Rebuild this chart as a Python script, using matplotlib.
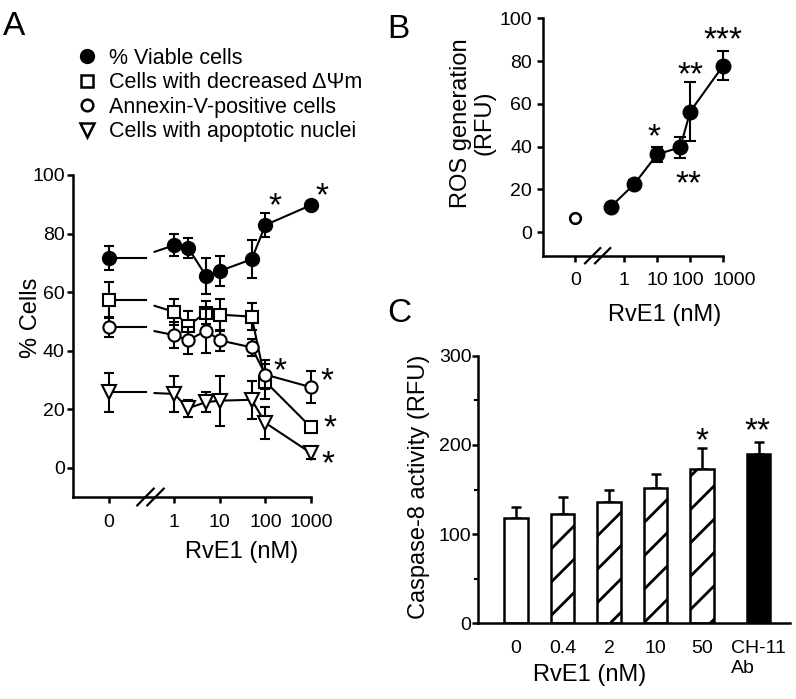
import matplotlib
matplotlib.use('Agg')
import matplotlib.pyplot as plt
import numpy as np
from matplotlib.lines import Line2D
from matplotlib.transforms import ScaledTranslation

plt.rcParams['font.family'] = ['Liberation Sans', 'DejaVu Sans']
plt.rcParams['axes.linewidth'] = 1.8
plt.rcParams['hatch.linewidth'] = 2.0

# ---- panel A: % cells vs RvE1 ----
doses_a = [0, 1, 2, 5, 10, 50, 100, 1000]
viable = [71.5, 76.0, 75.2, 65.5, 67.2, 71.2, 82.9, 89.7]
viable_err = [4.1, 3.7, 3.4, 6.2, 5.2, 6.5, 4.2, 1.0]
dpsi = [57.4, 53.2, 48.5, 53.0, 52.3, 51.6, 29.4, 13.8]
dpsi_err = [6.0, 4.5, 5.0, 4.0, 5.5, 4.5, 6.0, 1.0]
annexin = [48.0, 45.3, 43.5, 46.8, 43.5, 41.1, 31.8, 27.5]
annexin_err = [3.2, 4.5, 4.5, 7.5, 3.5, 3.0, 5.0, 5.5]
nuclei = [25.8, 25.2, 20.3, 22.4, 22.9, 23.2, 15.3, 5.0]
nuclei_err = [6.7, 6.0, 3.0, 3.5, 8.5, 6.5, 5.5, 2.0]
xticks_a = ['0', '1', '10', '100', '1000']

# ---- panel B: ROS generation ----
doses_b = [0, 0.4, 2, 10, 50, 100, 1000]
ros = [6.5, 12.0, 22.4, 36.4, 39.7, 56.4, 77.9]
ros_err = [0, 1.0, 2.0, 3.5, 5.0, 14.0, 6.7]

# ---- panel C: caspase-8 ----
casp_labels = ['0', '0.4', '2', '10', '50', 'CH-11\nAb']
casp = [117.7, 122.9, 136.3, 152.0, 173.3, 189.8]
casp_err = [12.3, 19.1, 13.1, 15.0, 22.7, 13.2]


def dose_pos(doses, zero_pos):
    return np.array([zero_pos if d == 0 else np.log10(d) for d in doses])


def clean_axes(ax):
    ax.spines['top'].set_visible(False)
    ax.spines['right'].set_visible(False)
    ax.tick_params(direction='out', width=1.8, labelsize=14)


def break_marks(ax, centers, half_w, half_h):
    tr = ax.get_xaxis_transform()
    for c in centers:
        ax.plot([c - half_w, c + half_w], [-half_h, half_h], color='black',
                lw=1.6, transform=tr, clip_on=False, zorder=5)


def star(ax, s, x, y, fs=24):
    # place glyph centre at (x, y)
    ax.annotate(s, xy=(x, y), xytext=(0, -0.57 * fs), textcoords='offset points',
                ha='center', va='baseline', fontsize=fs, annotation_clip=False)


fig = plt.figure(figsize=(7.96, 6.99), dpi=100)

# ================= A =================
axA = fig.add_axes([0.0917, 0.2890, 0.2990, 0.4607])
clean_axes(axA)
zero_a = -1.43
ua = dose_pos(doses_a, zero_a)
gap_l, gap_r = -0.61, -0.43

styles = [
    (nuclei, nuclei_err, dict(marker='v', mfc='white', ms=9.5)),
    (dpsi, dpsi_err, dict(marker='s', mfc='white', ms=8.8)),
    (annexin, annexin_err, dict(marker='o', mfc='white', ms=8.8)),
    (viable, viable_err, dict(marker='o', mfc='black', ms=9.5)),
]
z = 2
for vals, err, mk in styles:
    vals = np.array(vals)
    axA.errorbar(ua, vals, yerr=err, fmt='none', ecolor='black', elinewidth=1.5,
                 capsize=3.5, capthick=1.5, zorder=z, clip_on=False)
    axA.plot([ua[0], gap_l], [vals[0], vals[0]], color='black', lw=1.5, zorder=z)
    axA.plot([gap_r, ua[1]], [(vals[0] + vals[1]) / 2, vals[1]], color='black', lw=1.5, zorder=z)
    axA.plot(ua[1:], vals[1:], color='black', lw=1.5, mec='black', mew=1.5,
             zorder=z + 0.5, clip_on=False, **mk)
    axA.plot(ua[:1], vals[:1], linestyle='none', mec='black', mew=1.5, zorder=z + 0.5, **mk)
    z += 1

axA.set_xlim(-2.22, 3.0)
axA.set_ylim(-10, 100)
axA.set_yticks([0, 20, 40, 60, 80, 100])
axA.set_xticks([zero_a, 0, 1, 2, 3], xticks_a)
axA.tick_params(axis='y', length=4, pad=2)
axA.tick_params(axis='x', length=4, pad=8)
axA.set_ylabel('% Cells', fontsize=17, va='center')
axA.yaxis.set_label_coords(-0.176, 0.556)
axA.set_xlabel('RvE1 (nM)', fontsize=17, va='center')
axA.xaxis.set_label_coords(0.709, -0.171)
break_marks(axA, [-0.63, -0.41], 0.18, 0.026)

star(axA, '*', 2.2, 92.6)
star(axA, '*', 3.25, 96.3)
star(axA, '*', 2.32, 36.3)
star(axA, '*', 3.34, 32.9)
star(axA, '*', 3.41, 17.0)
star(axA, '*', 3.37, 4.5)

legend_handles = [
    Line2D([], [], linestyle='none', marker='o', mfc='black', mec='black', ms=9.5, mew=1.5),
    Line2D([], [], linestyle='none', marker='s', mfc='white', mec='black', ms=8.2, mew=1.8),
    Line2D([], [], linestyle='none', marker='o', mfc='white', mec='black', ms=8.4, mew=1.8),
    Line2D([], [], linestyle='none', marker='v', mfc='white', mec='black', ms=9.5, mew=1.8),
]
legend_labels = ['% Viable cells', 'Cells with decreased ΔΨm',
                 'Annexin-V-positive cells', 'Cells with apoptotic nuclei']
fig.legend(legend_handles, legend_labels, loc='upper left',
           bbox_to_anchor=(76 / 796, 1 - 48 / 699), frameon=False, fontsize=15.5,
           handlelength=1.0, handletextpad=0.55, labelspacing=0.16,
           borderpad=0, borderaxespad=0)

# ================= B =================
axB = fig.add_axes([0.6825, 0.6342, 0.2261, 0.3396])
clean_axes(axB)
zero_b = -1.48
ub = dose_pos(doses_b, zero_b)
axB.errorbar(ub[1:], ros[1:], yerr=ros_err[1:], fmt='none', ecolor='black',
             elinewidth=1.5, capsize=4, capthick=1.5, zorder=2, clip_on=False)
axB.plot(ub[1:], ros[1:], color='black', lw=1.5, marker='o', mfc='black',
         mec='black', ms=10.5, zorder=3, clip_on=False)
axB.plot(ub[:1], ros[:1], linestyle='none', marker='o', mfc='white', mec='black',
         ms=7.7, mew=1.8, zorder=3)
axB.set_xlim(-2.45, 3.0)
axB.set_ylim(-11, 100)
axB.set_yticks([0, 20, 40, 60, 80, 100])
axB.set_xticks([zero_b, 0, 1, 2, 3], xticks_a)
axB.tick_params(axis='y', length=4, pad=4)
axB.tick_params(axis='x', length=4, pad=8)
# the last two labels sit a little apart, as in the original
shifts = [0, 0, 0, -2, 11]
for lbl, dx in zip(axB.get_xticklabels(), shifts):
    lbl.set_transform(lbl.get_transform() + ScaledTranslation(dx / 100, 0, fig.dpi_scale_trans))
axB.set_ylabel('ROS generation\n(RFU)', fontsize=17, va='center', linespacing=1.05)
axB.yaxis.set_label_coords(-0.391, 0.559)
axB.set_xlabel('RvE1 (nM)', fontsize=17, va='center')
axB.xaxis.set_label_coords(0.676, -0.25)
break_marks(axB, [-0.955, -0.652], 0.23, 0.032)
star(axB, '*', 0.89, 49.0)
star(axB, '**', 2.0, 77.9)
star(axB, '**', 1.94, 27.2)
star(axB, '***', 3.0, 94.2)

# ================= C =================
axC = fig.add_axes([0.6009, 0.1083, 0.3916, 0.3828])
clean_axes(axC)
xc = np.array([0, 1, 2, 3, 4, 5.22])
faces = ['white', 'white', 'white', 'white', 'white', 'black']
hatches = ['', '/', '/', '/', '/', '']
bars = axC.bar(xc, casp, width=0.5, color=faces, edgecolor='black', linewidth=1.8, zorder=2)
for b, h in zip(bars, hatches):
    b.set_hatch(h)
axC.errorbar(xc, casp, yerr=[np.zeros(len(casp)), casp_err], fmt='none', ecolor='black',
             elinewidth=1.8, capsize=3.5, capthick=1.8, zorder=1)
axC.set_xlim(-0.81, 5.89)
axC.set_ylim(0, 300)
axC.set_yticks([0, 100, 200, 300])
axC.set_yticks([50, 150, 250], minor=True)
axC.tick_params(axis='y', which='major', length=4, pad=1)
axC.tick_params(axis='y', which='minor', length=3, width=1.5)
axC.set_xticks(xc, casp_labels)
axC.tick_params(axis='x', length=0, pad=12)
for lbl in axC.get_xticklabels():
    lbl.set_multialignment('left')
    lbl.set_verticalalignment('top')
axC.set_ylabel('Caspase-8 activity (RFU)', fontsize=17, va='center')
axC.yaxis.set_label_coords(-0.19, 0.509)
axC.set_xlabel('RvE1 (nM)', fontsize=17, va='center')
axC.xaxis.set_label_coords(0.358, -0.193)
star(axC, '*', 4.0, 215.8)
star(axC, '**', 5.2, 227.0)

# panel letters
fig.text(3 / 796, 1 - 35 / 699, 'A', fontsize=24, va='baseline')
fig.text(387 / 796, 1 - 38 / 699, 'B', fontsize=24, va='baseline')
fig.text(387 / 796, 1 - 322 / 699, 'C', fontsize=24, va='baseline')

fig.savefig('out.png', dpi=100)
